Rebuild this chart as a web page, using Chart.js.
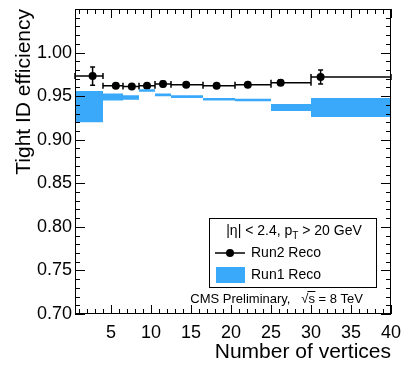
<!DOCTYPE html>
<html lang="en">
<head>
<meta charset="UTF-8">
<title>Tight ID efficiency vs number of vertices</title>
<script src="https://cdn.jsdelivr.net/npm/chart.js"></script>
<style>
  html, body { margin: 0; padding: 0; background: #fff; }
  #chart { display: block; }
</style>
</head>
<body>
<canvas id="chart" width="402" height="365"></canvas>
<script>
// Bins in number of vertices
const binLo = [0.5, 4, 6.5, 8.5, 10.5, 12.5, 16.5, 20.5, 25, 30];
const binHi = [4, 6.5, 8.5, 10.5, 12.5, 16.5, 20.5, 25, 30, 40];

// Run2 reco: mean nvtx in bin, efficiency and error
const run2X = [2.7, 5.6, 7.6, 9.5, 11.5, 14.4, 18.2, 22.1, 26.2, 31.2];
const run2Eff = [0.973, 0.962, 0.961, 0.962, 0.964, 0.963, 0.962, 0.963, 0.9655, 0.972];
const run2Err = [0.0105, 0.002, 0.002, 0.002, 0.003, 0.002, 0.002, 0.002, 0.003, 0.008];

// Run1 reco band (upper / lower edge per bin)
const run1Hi = [0.956, 0.953, 0.951, 0.958, 0.953, 0.951, 0.948, 0.947, 0.941, 0.948];
const run1Lo = [0.920, 0.945, 0.946, 0.955, 0.950, 0.948, 0.945, 0.944, 0.933, 0.926];

// Tick labels
const xTicks = [5, 10, 15, 20, 25, 30, 35, 40];
const yTicks = [0.70, 0.75, 0.80, 0.85, 0.90, 0.95, 1.00];

const FONT = "'Liberation Sans', Arial, Helvetica, sans-serif";
const BLUE = '#3aa9fa';

// band edge as a histogram outline: each bin value at both of its edges
function bandPoints(vals) {
    const pts = [];
    vals.forEach((v, i) => {
        pts.push({x: binLo[i], y: v});
        pts.push({x: binHi[i], y: v});
    });
    return pts;
}

// x/y error bars of the Run2 points, drawn under the markers
const errorBars = {
    id: 'errorBars',
    beforeDatasetDraw(chart, args) {
        if (args.index !== 2) return;
        const {ctx, scales: {x, y}} = chart;
        ctx.save();
        ctx.strokeStyle = '#000';
        ctx.lineWidth = 1.5;
        ctx.beginPath();
        run2Eff.forEach((v, i) => {
            const py = y.getPixelForValue(v);
            const x0 = x.getPixelForValue(binLo[i]);
            const x1 = x.getPixelForValue(binHi[i]);
            const px = x.getPixelForValue(run2X[i]);
            const yt = y.getPixelForValue(v + run2Err[i]);
            const yb = y.getPixelForValue(v - run2Err[i]);
            ctx.moveTo(x0, py); ctx.lineTo(x1, py);
            ctx.moveTo(x0, py - 3); ctx.lineTo(x0, py + 3);
            ctx.moveTo(x1, py - 3); ctx.lineTo(x1, py + 3);
            ctx.moveTo(px, yt); ctx.lineTo(px, yb);
            ctx.moveTo(px - 2.5, yt); ctx.lineTo(px + 2.5, yt);
            ctx.moveTo(px - 2.5, yb); ctx.lineTo(px + 2.5, yb);
        });
        ctx.stroke();
        ctx.restore();
    }
};

// ROOT style frame with inward ticks on all four sides
const frame = {
    id: 'frame',
    afterDatasetsDraw(chart) {
        const {ctx, chartArea: a, scales: {x, y}} = chart;
        ctx.save();
        ctx.strokeStyle = '#000';
        ctx.lineWidth = 1;
        ctx.strokeRect(a.left + 0.5, a.top + 0.5, a.right - a.left - 1, a.bottom - a.top - 1);
        ctx.beginPath();
        for (let v = Math.ceil(x.min); v <= x.max; v++) {
            const px = Math.round(x.getPixelForValue(v)) + 0.5;
            const len = v % 5 === 0 ? 9 : 5;
            ctx.moveTo(px, a.bottom); ctx.lineTo(px, a.bottom - len);
            ctx.moveTo(px, a.top); ctx.lineTo(px, a.top + len);
        }
        for (let k = Math.round(y.min * 100); k <= Math.round(y.max * 100); k++) {
            const py = Math.round(y.getPixelForValue(k / 100)) + 0.5;
            const len = k % 5 === 0 ? 10 : 5;
            ctx.moveTo(a.left, py); ctx.lineTo(a.left + len, py);
            ctx.moveTo(a.right, py); ctx.lineTo(a.right - len, py);
        }
        ctx.stroke();
        ctx.restore();
    }
};

// legend box and CMS label
const legendBox = {
    id: 'legendBox',
    afterDraw(chart) {
        const ctx = chart.ctx;
        ctx.save();
        ctx.strokeStyle = '#000';
        ctx.lineWidth = 1;
        ctx.strokeRect(209.5, 218.5, 167, 69);

        ctx.fillStyle = '#000';
        ctx.textBaseline = 'middle';
        // header with p_T subscript
        const h1 = '|\u03b7| < 2.4, p', h2 = ' > 20 GeV';
        ctx.font = '14px ' + FONT;
        const w1 = ctx.measureText(h1).width, w3 = ctx.measureText(h2).width;
        ctx.font = '10px ' + FONT;
        const w2 = ctx.measureText('T').width;
        const hx = 294 - (w1 + w2 + w3) / 2;
        const hy = 231;
        ctx.font = '14px ' + FONT;
        ctx.fillText(h1, hx, hy);
        ctx.font = '10px ' + FONT;
        ctx.fillText('T', hx + w1, hy + 5);
        ctx.font = '14px ' + FONT;
        ctx.fillText(h2, hx + w1 + w2, hy);

        // Run2 entry
        ctx.fillText('Run2 Reco', 251, 253);
        ctx.lineWidth = 1.5;
        ctx.beginPath();
        ctx.moveTo(215, 253); ctx.lineTo(245, 253);
        ctx.stroke();
        ctx.beginPath();
        ctx.arc(230, 253, 4, 0, Math.PI * 2);
        ctx.fill();

        // Run1 entry
        ctx.fillStyle = BLUE;
        ctx.fillRect(216, 267, 29, 16);
        ctx.fillStyle = '#000';
        ctx.fillText('Run1 Reco', 251, 275);

        // CMS Preliminary, sqrt(s) = 8 TeV
        ctx.font = '13px ' + FONT;
        const a = 'CMS Preliminary,   ', r = '\u221a', s = 's', b = ' = 8 TeV';
        const wa = ctx.measureText(a).width, wr = ctx.measureText(r).width;
        const ws = ctx.measureText(s).width, wb = ctx.measureText(b).width;
        const cx = 363 - (wa + wr + ws + wb);
        const cy = 299;
        ctx.fillText(a, cx, cy);
        ctx.fillText(r, cx + wa, cy);
        ctx.fillText(s, cx + wa + wr, cy);
        ctx.fillText(b, cx + wa + wr + ws, cy);
        ctx.lineWidth = 1;
        ctx.beginPath();
        ctx.moveTo(cx + wa + wr - 1, cy - 7.5);
        ctx.lineTo(cx + wa + wr + ws + 0.5, cy - 7.5);
        ctx.stroke();
        ctx.restore();
    }
};

new Chart(document.getElementById('chart'), {
    type: 'scatter',
    data: {
        datasets: [
            {
                label: 'Run1 Reco high',
                type: 'line',
                data: bandPoints(run1Hi),
                borderWidth: 0,
                pointRadius: 0,
                tension: 0,
                fill: false
            },
            {
                label: 'Run1 Reco',
                type: 'line',
                data: bandPoints(run1Lo),
                borderWidth: 0,
                pointRadius: 0,
                tension: 0,
                backgroundColor: BLUE,
                fill: '-1'
            },
            {
                label: 'Run2 Reco',
                data: run2X.map((x, i) => ({x: x, y: run2Eff[i]})),
                pointRadius: 4,
                pointBackgroundColor: '#000',
                pointBorderColor: '#000',
                pointBorderWidth: 0
            }
        ]
    },
    options: {
        responsive: false,
        animation: false,
        devicePixelRatio: 1,
        layout: {padding: {top: 9, right: 11, left: 0, bottom: 0}},
        plugins: {
            legend: {display: false},
            tooltip: {enabled: false}
        },
        scales: {
            x: {
                type: 'linear',
                min: 0.5,
                max: 40,
                afterBuildTicks: s => { s.ticks = xTicks.map(v => ({value: v})); },
                afterFit: s => { s.height = 51; s.paddingLeft = 0; s.paddingRight = 0; },
                grid: {display: false, drawTicks: false},
                border: {display: false},
                ticks: {
                    color: '#000',
                    padding: 8,
                    maxRotation: 0,
                    font: {family: FONT, size: 18}
                },
                title: {
                    display: true,
                    text: 'Number of vertices',
                    align: 'end',
                    color: '#000',
                    padding: 0,
                    font: {family: FONT, size: 21}
                }
            },
            y: {
                min: 0.70,
                max: 1.05,
                afterBuildTicks: s => { s.ticks = yTicks.map(v => ({value: v})); },
                afterFit: s => { s.width = 75; s.paddingTop = 0; s.paddingBottom = 0; },
                grid: {display: false, drawTicks: false},
                border: {display: false},
                ticks: {
                    color: '#000',
                    padding: 3,
                    callback: v => v.toFixed(2),
                    font: {family: FONT, size: 18}
                },
                title: {
                    display: true,
                    text: 'Tight ID efficiency',
                    align: 'end',
                    color: '#000',
                    padding: {top: 12},
                    font: {family: FONT, size: 21}
                }
            }
        }
    },
    plugins: [errorBars, frame, legendBox]
});
</script>
</body>
</html>
